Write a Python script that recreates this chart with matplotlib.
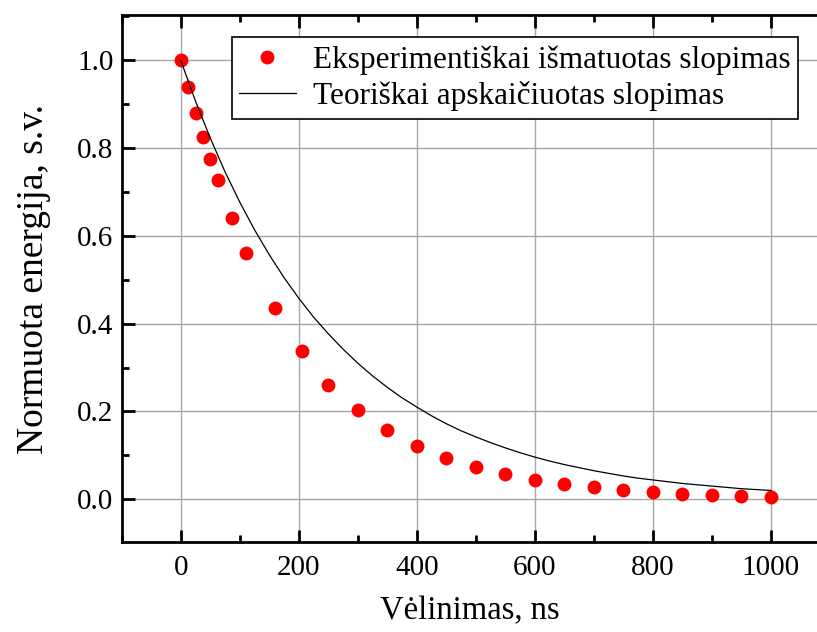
import matplotlib
matplotlib.use("Agg")
import matplotlib.pyplot as plt
from matplotlib.ticker import MultipleLocator

plt.rcParams['font.family'] = ['Liberation Serif', 'DejaVu Serif']

# experimental points
x_exp = [0, 12.5, 25, 37.5, 50, 62.5, 87.5, 110, 160, 205, 250, 300, 350, 400,
         450, 500, 550, 600, 650, 700, 750, 800, 850, 900, 950, 1000]
y_exp = [1.000, 0.940, 0.880, 0.826, 0.775, 0.727, 0.640, 0.562, 0.436, 0.337,
         0.261, 0.203, 0.157, 0.122, 0.094, 0.073, 0.057, 0.044, 0.034, 0.027,
         0.021, 0.016, 0.013, 0.010, 0.008, 0.006]

# theoretical curve, read every 25 ns
x_th = [0, 25, 50, 75, 100, 125, 150, 175, 200, 225, 250, 275, 300, 325, 350,
        375, 400, 425, 450, 475, 500, 525, 550, 575, 600, 625, 650, 675, 700,
        725, 750, 775, 800, 825, 850, 875, 900, 925, 950, 975, 1000]
y_th = [1.000, 0.907, 0.823, 0.746, 0.677, 0.614, 0.557, 0.505, 0.458, 0.415,
        0.377, 0.342, 0.310, 0.281, 0.255, 0.231, 0.210, 0.190, 0.172, 0.156,
        0.142, 0.129, 0.117, 0.106, 0.096, 0.087, 0.079, 0.072, 0.065, 0.059,
        0.053, 0.048, 0.044, 0.040, 0.036, 0.033, 0.030, 0.027, 0.024, 0.022,
        0.020]

fig = plt.figure(figsize=(8.17, 6.32), dpi=100)
# plot area runs off the right edge of the picture
ax = fig.add_axes([0.149, 0.142, 0.851, 0.834])

ax.grid(True, color='#a8a8a8', linewidth=1.0)
ax.set_axisbelow(True)

ax.plot(x_exp, y_exp, 'o', color='red', markersize=10, markeredgewidth=0,
        label='Eksperimentiškai išmatuotas slopimas', zorder=3)
ax.plot(x_th, y_th, '-', color='black', linewidth=0.9,
        label='Teoriškai apskaičiuotas slopimas', zorder=4)

ax.set_xlim(-100, 1078)
ax.set_ylim(-0.098, 1.103)
ax.xaxis.set_major_locator(MultipleLocator(200))
ax.xaxis.set_minor_locator(MultipleLocator(100))
ax.yaxis.set_major_locator(MultipleLocator(0.2))
ax.yaxis.set_minor_locator(MultipleLocator(0.1))
ax.yaxis.set_major_formatter(plt.FuncFormatter(lambda v, p: '%.1f' % v))

ax.tick_params(which='major', direction='in', length=9, width=2,
               labelsize=21, top=True, right=False)
ax.tick_params(axis='x', which='major', pad=9)
ax.tick_params(axis='y', which='major', pad=6)
ax.tick_params(which='minor', direction='in', length=5, width=2,
               top=True, right=False)
ax.spines['right'].set_visible(False)
for s in ['left', 'bottom', 'top']:
    ax.spines[s].set_linewidth(2)

ax.set_xlabel('Vėlinimas, ns', fontsize=23.5, labelpad=11)
ax.set_ylabel('Normuota energija, s.v.', fontsize=27, labelpad=19)

leg = ax.legend(loc='upper right', fontsize=22.5, numpoints=1, handlelength=1.8,
                handletextpad=0.55, borderpad=0.25, labelspacing=0.2,
                borderaxespad=0, fancybox=False, framealpha=1, edgecolor='black',
                bbox_to_anchor=(0.973, 0.958))
leg.get_frame().set_linewidth(1.2)

fig.savefig('out.png', dpi=100)
